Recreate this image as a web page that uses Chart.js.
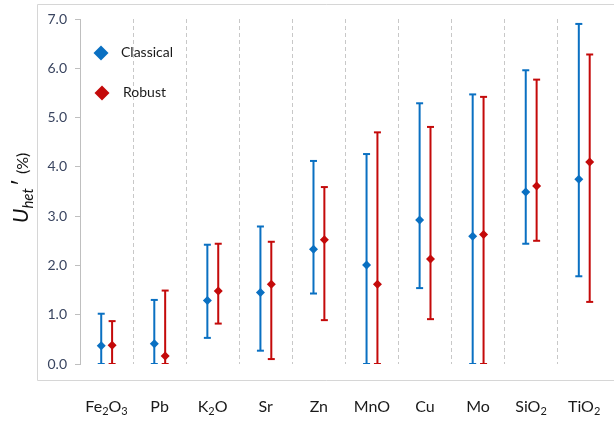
<!DOCTYPE html>
<html>
<head>
<meta charset="utf-8">
<script src="https://cdn.jsdelivr.net/npm/chart.js@4.4.1/dist/chart.umd.min.js"></script>
<style>
  html, body { margin: 0; padding: 0; background: #ffffff; }
  #wrap { width: 614px; height: 421px; position: relative; }
</style>
</head>
<body>
<div id="wrap"><canvas id="c" width="614" height="421"></canvas></div>
<script>
// Heterogeneity uncertainty per analyte, classical vs robust estimates
const categories = ['Fe2O3', 'Pb', 'K2O', 'Sr', 'Zn', 'MnO', 'Cu', 'Mo', 'SiO2', 'TiO2'];

const classicalMid  = [0.37, 0.41, 1.29, 1.45, 2.33, 2.01, 2.92, 2.59, 3.49, 3.75];
const classicalHigh = [1.02, 1.30, 2.42, 2.79, 4.12, 4.26, 5.29, 5.47, 5.96, 6.90];
const classicalLow  = [0.00, 0.00, 0.53, 0.27, 1.43, 0.00, 1.54, 0.00, 2.44, 1.78];

const robustMid  = [0.38, 0.16, 1.48, 1.62, 2.52, 1.62, 2.13, 2.63, 3.61, 4.10];
const robustHigh = [0.87, 1.49, 2.44, 2.48, 3.59, 4.70, 4.81, 5.42, 5.77, 6.28];
const robustLow  = [0.00, 0.00, 0.82, 0.10, 0.89, 0.00, 0.91, 0.00, 2.50, 1.26];

const yTicks = [0, 1, 2, 3, 4, 5, 6, 7];

const seriesNames = ['Classical', 'Robust'];
const BLUE = '#0A70C2';
const RED = '#C40A0A';
const OFF_C = -0.10, OFF_R = 0.105;
const FONT = 'Lato, "Open Sans", sans-serif';

function whiskers(low, high, off) {
  const pts = [];
  low.forEach((lo, i) => {
    pts.push({ x: i + off, y: lo }, { x: i + off, y: high[i] }, { x: i + off, y: null });
  });
  return pts;
}
function capPoints(low, high, off) {
  const pts = [];
  low.forEach((lo, i) => { pts.push({ x: i + off, y: lo }, { x: i + off, y: high[i] }); });
  return pts;
}
function midPoints(mid, off) {
  return mid.map((v, i) => ({ x: i + off, y: v }));
}

// Draws text where digits become subscripts (chemical formulae)
function drawFormula(ctx, text, cx, baseY, size, color) {
  const big = size + 'px ' + FONT;
  const small = Math.round(size * 0.68) + 'px ' + FONT;
  const parts = text.match(/[0-9]+|[^0-9]+/g);
  let w = 0;
  parts.forEach(p => { ctx.font = /\d/.test(p) ? small : big; w += ctx.measureText(p).width; });
  let x = cx - w / 2;
  ctx.fillStyle = color;
  ctx.textAlign = 'left';
  ctx.textBaseline = 'alphabetic';
  parts.forEach(p => {
    const sub = /\d/.test(p);
    ctx.font = sub ? small : big;
    ctx.fillText(p, x, baseY + (sub ? 3 : 0));
    x += ctx.measureText(p).width;
  });
}

function diamond(ctx, x, y, r, color) {
  ctx.beginPath();
  ctx.moveTo(x, y - r);
  ctx.lineTo(x + r, y);
  ctx.lineTo(x, y + r);
  ctx.lineTo(x - r, y);
  ctx.closePath();
  ctx.fillStyle = color;
  ctx.fill();
}

const decorations = {
  id: 'decorations',
  beforeDraw(chart) {
    const ctx = chart.ctx;
    ctx.save();
    ctx.fillStyle = '#ffffff';
    ctx.fillRect(0, 0, chart.width, chart.height);
    // outer frame
    ctx.strokeStyle = '#d6d6d6';
    ctx.lineWidth = 1;
    ctx.beginPath();
    ctx.moveTo(chart.width + 2, 4.5);
    ctx.lineTo(37.5, 4.5);
    ctx.lineTo(37.5, 380.5);
    ctx.lineTo(chart.width + 2, 380.5);
    ctx.stroke();
    ctx.restore();
  },
  afterDraw(chart) {
    const ctx = chart.ctx;
    const xs = chart.scales.x;
    ctx.save();
    // category labels
    categories.forEach((c, i) => {
      drawFormula(ctx, c, xs.getPixelForValue(i), 412, 16, '#1a1a1a');
    });
    // y-axis title: U_het ′ (%)
    ctx.translate(28, 223);
    ctx.rotate(-Math.PI / 2);
    ctx.fillStyle = '#111111';
    ctx.textAlign = 'left';
    ctx.textBaseline = 'alphabetic';
    let x = 0;
    ctx.font = 'italic 21px ' + FONT;
    ctx.fillText('U', x, 0); x += ctx.measureText('U').width;
    ctx.font = 'italic 15px ' + FONT;
    ctx.fillText('het', x, 5); x += ctx.measureText('het').width + 2;
    ctx.font = '22px ' + FONT;
    ctx.fillText('\u2032', x, 0); x += ctx.measureText('\u2032').width + 5;
    ctx.font = '16px ' + FONT;
    ctx.fillText('(%)', x, 0);
    ctx.restore();

    // legend
    ctx.save();
    diamond(ctx, 101, 53, 7.5, BLUE);
    diamond(ctx, 102, 93, 7.5, RED);
    ctx.fillStyle = '#1a1a1a';
    ctx.font = '14px ' + FONT;
    ctx.textAlign = 'left';
    ctx.textBaseline = 'alphabetic';
    ctx.fillText(seriesNames[0], 121, 57);
    ctx.fillText(seriesNames[1], 123, 97);
    ctx.restore();
  }
};

new Chart(document.getElementById('c'), {
  type: 'scatter',
  data: {
    datasets: [
      { type: 'line', data: whiskers(classicalLow, classicalHigh, OFF_C), borderColor: BLUE, borderWidth: 2, pointRadius: 0, spanGaps: false, order: 6 },
      { type: 'line', data: whiskers(robustLow, robustHigh, OFF_R), borderColor: RED, borderWidth: 2, pointRadius: 0, spanGaps: false, order: 5 },
      { data: capPoints(classicalLow, classicalHigh, OFF_C), pointStyle: 'line', pointRadius: 3.5, borderColor: BLUE, borderWidth: 2, order: 4 },
      { data: capPoints(robustLow, robustHigh, OFF_R), pointStyle: 'line', pointRadius: 3.5, borderColor: RED, borderWidth: 2, order: 3 },
      { label: seriesNames[0], data: midPoints(classicalMid, OFF_C), pointStyle: 'rectRot', pointRadius: 4.5, backgroundColor: BLUE, borderColor: BLUE, borderWidth: 0, order: 2 },
      { label: seriesNames[1], data: midPoints(robustMid, OFF_R), pointStyle: 'rectRot', pointRadius: 4.5, backgroundColor: RED, borderColor: RED, borderWidth: 0, order: 1 }
    ]
  },
  options: {
    responsive: false,
    animation: false,
    events: [],
    layout: { padding: { left: 0, top: 19, right: 0, bottom: 57 } },
    plugins: { legend: { display: false }, tooltip: { enabled: false } },
    scales: {
      x: {
        type: 'linear',
        min: -0.5,
        max: 9.45,
        afterBuildTicks: s => { s.ticks = [0.5, 1.5, 2.5, 3.5, 4.5, 5.5, 6.5, 7.5, 8.5].map(v => ({ value: v })); },
        afterFit: s => { s.height = 0; },
        ticks: { display: false },
        grid: { color: '#c8c8c8', lineWidth: 1, drawTicks: false, drawOnChartArea: true },
        border: { display: false, dash: [4, 3] }
      },
      y: {
        min: 0,
        max: 7,
        afterBuildTicks: s => { s.ticks = yTicks.map(v => ({ value: v })); },
        afterFit: s => { s.width = 80; },
        ticks: {
          callback: v => Number(v).toFixed(1),
          color: '#3a4560',
          font: { family: FONT, size: 14 },
          padding: 8
        },
        grid: { drawOnChartArea: false, drawTicks: true, tickLength: 5, color: '#bfbfbf' },
        border: { display: true, color: '#bfbfbf', width: 1 }
      }
    }
  },
  plugins: [decorations]
});
</script>
</body>
</html>
